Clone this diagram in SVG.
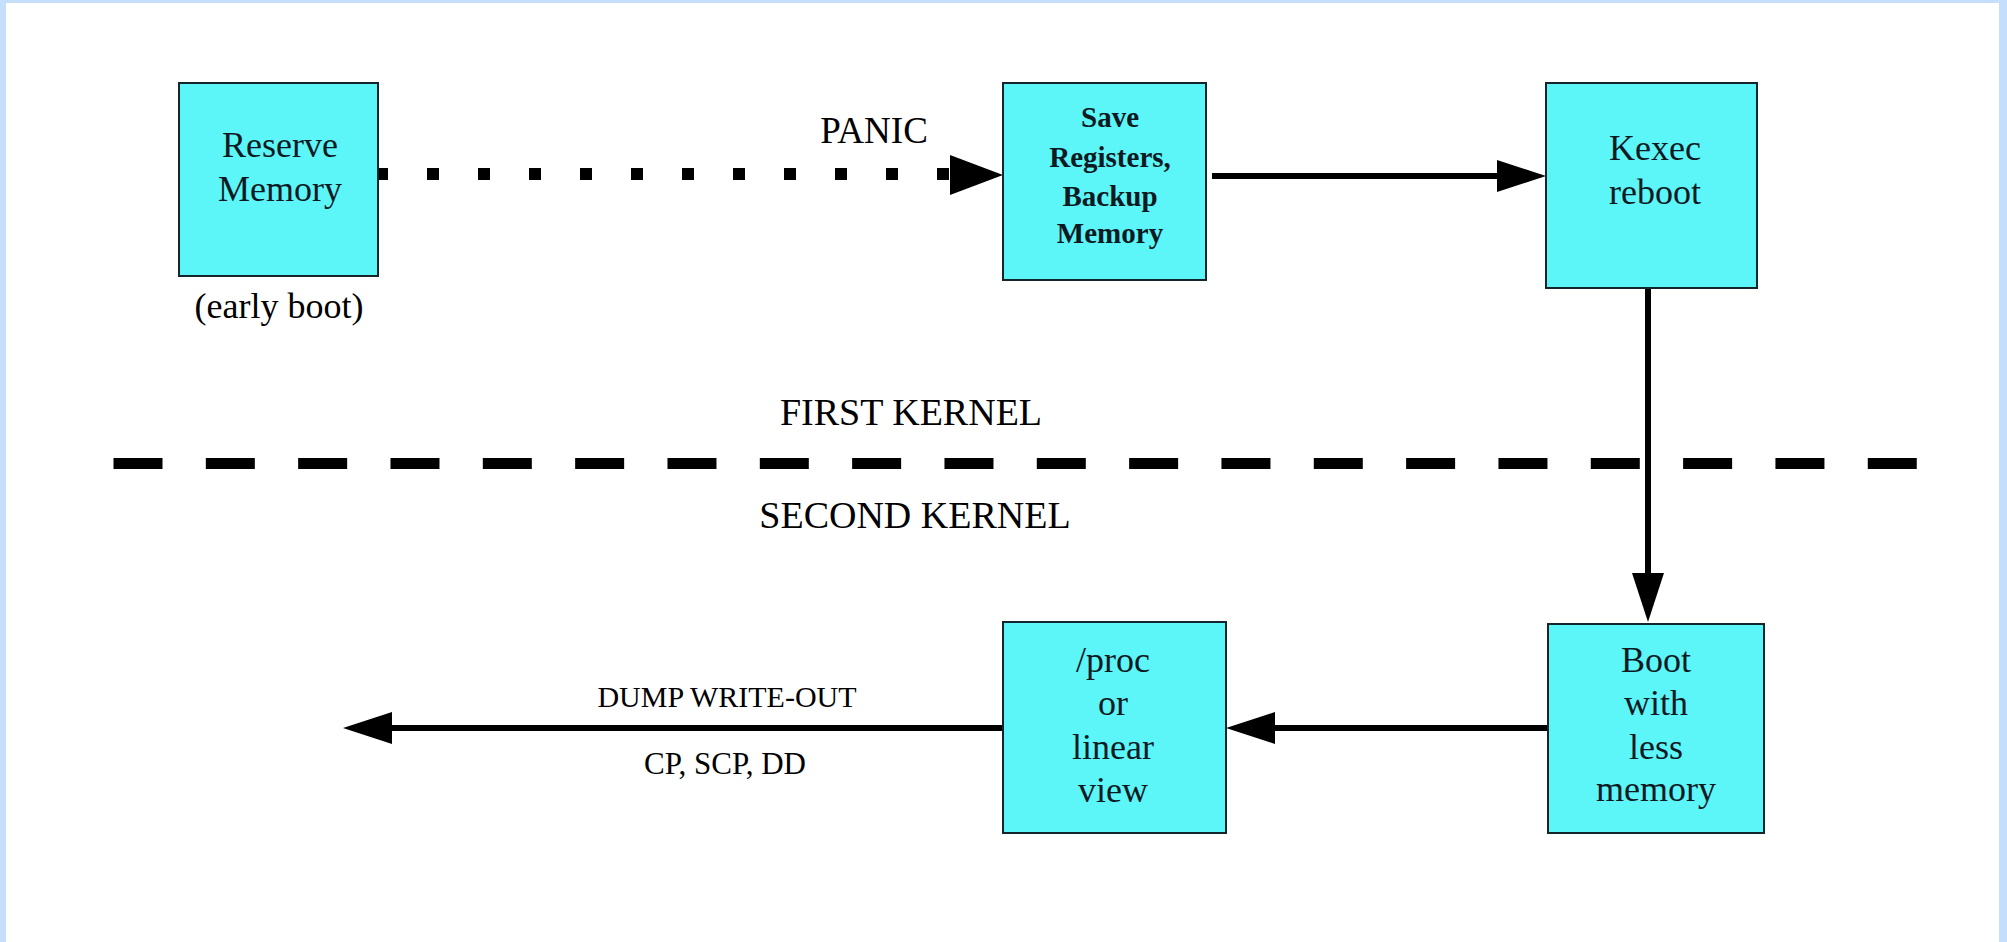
<svg xmlns="http://www.w3.org/2000/svg" width="2007" height="942" viewBox="0 0 2007 942">
  <style>
    .box { fill: #5cf5f8; stroke: #14252b; stroke-width: 2; }
    .lbl { font-family: "Liberation Serif", "Times New Roman", serif; font-size: 36px; fill: #0d1a22; text-anchor: middle; }
    .bold { font-weight: bold; font-size: 29px; }
    .note { font-family: "Liberation Serif", "Times New Roman", serif; fill: #000; text-anchor: middle; }
    .wire { stroke: #000; stroke-width: 6; fill: none; }
    .dots { stroke: #000; stroke-width: 12; stroke-dasharray: 12 39; fill: none; }
    .divider { stroke: #000; stroke-width: 11; stroke-dasharray: 49 43.33; fill: none; }
    .head { fill: #000; }
  </style>
  <defs>
    <!-- arrowhead pointing along +x, tip at origin -->
    <path id="arrowhead" class="head" d="M0,0 L-49,-16 L-49,16 Z"/>
    <path id="arrowhead-big" class="head" d="M0,0 L-53,-20 L-53,20 Z"/>
  </defs>

  <!-- page -->
  <rect x="0" y="0" width="2007" height="942" fill="#c4defc"/>
  <rect x="6" y="3" width="1993" height="939" fill="#ffffff"/>

  <!-- kernel boundary -->
  <g id="boundary">
    <line class="divider" x1="113.5" y1="463.5" x2="1917" y2="463.5"/>
    <text class="note" x="911" y="425" font-size="38">FIRST KERNEL</text>
    <text class="note" x="915" y="528" font-size="38">SECOND KERNEL</text>
  </g>

  <!-- connectors -->
  <g id="connectors">
    <line class="dots" x1="376" y1="174" x2="950" y2="174"/>
    <use href="#arrowhead-big" transform="translate(1003,175)"/>
    <text class="note" x="874" y="143" font-size="37">PANIC</text>

    <line class="wire" x1="1212" y1="176" x2="1500" y2="176"/>
    <use href="#arrowhead" transform="translate(1546,176)"/>

    <line class="wire" x1="1648" y1="288" x2="1648" y2="575"/>
    <use href="#arrowhead" transform="translate(1648,622) rotate(90)"/>

    <line class="wire" x1="1548" y1="728" x2="1274" y2="728"/>
    <use href="#arrowhead" transform="translate(1226,728) rotate(180)"/>

    <line class="wire" x1="1003" y1="728" x2="391" y2="728"/>
    <use href="#arrowhead" transform="translate(343,728) rotate(180)"/>
    <text class="note" x="727" y="707" font-size="30">DUMP WRITE-OUT</text>
    <text class="note" x="725" y="774" font-size="31">CP, SCP, DD</text>
  </g>

  <g id="reserve-memory">
    <rect class="box" x="179" y="83" width="199" height="193"/>
    <text class="lbl" x="280" y="157" font-size="35">Reserve</text>
    <text class="lbl" x="280" y="201" font-size="35">Memory</text>
    <text class="note" x="279" y="318" font-size="36">(early boot)</text>
  </g>

  <g id="save-registers">
    <rect class="box" x="1003" y="83" width="203" height="197"/>
    <text class="lbl bold" x="1110" y="127">Save</text>
    <text class="lbl bold" x="1110" y="167">Registers,</text>
    <text class="lbl bold" x="1110" y="206">Backup</text>
    <text class="lbl bold" x="1110" y="243">Memory</text>
  </g>

  <g id="kexec-reboot">
    <rect class="box" x="1546" y="83" width="211" height="205"/>
    <text class="lbl" x="1655" y="160" font-size="37">Kexec</text>
    <text class="lbl" x="1655" y="204" font-size="37">reboot</text>
  </g>

  <g id="boot-less-memory">
    <rect class="box" x="1548" y="624" width="216" height="209"/>
    <text class="lbl" x="1656" y="672">Boot</text>
    <text class="lbl" x="1656" y="715">with</text>
    <text class="lbl" x="1656" y="759">less</text>
    <text class="lbl" x="1656" y="801">memory</text>
  </g>

  <g id="proc-view">
    <rect class="box" x="1003" y="622" width="223" height="211"/>
    <text class="lbl" x="1113" y="672">/proc</text>
    <text class="lbl" x="1113" y="715">or</text>
    <text class="lbl" x="1113" y="759">linear</text>
    <text class="lbl" x="1113" y="802">view</text>
  </g>
</svg>
